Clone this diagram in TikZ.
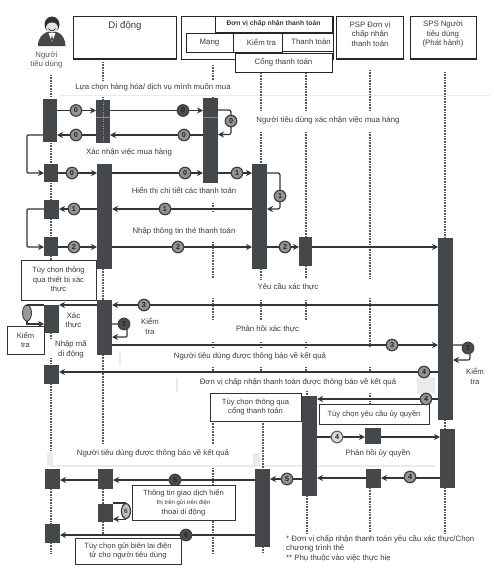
\documentclass[tikz,border=0pt]{standalone}
\usepackage{fontspec}
\setmainfont{Liberation Sans}
\usetikzlibrary{arrows.meta,shapes.geometric}
\definecolor{actc}{HTML}{45484A}
\definecolor{linec}{HTML}{353535}
\definecolor{txtc}{HTML}{3C3C3C}
\tikzset{
 act/.style={fill=actc,inner sep=0pt,outer sep=0pt},
 hdr/.style={draw=black!85,line width=0.7pt,fill=white,inner sep=0pt,outer sep=0pt,align=center,font=\fontsize{7.8}{9.2}\selectfont,text=txtc},
 hdrs/.style={hdr,line width=1pt},
 note/.style={draw=black!80,line width=0.8pt,fill=white,inner sep=0pt,outer sep=0pt,align=center,font=\fontsize{7.6}{9.4}\selectfont,text=txtc},
 lbl/.style={font=\fontsize{7.8}{9.4}\selectfont,text=txtc,align=center,inner sep=0pt},
 life/.style={draw=black!65,line width=1.5pt,dash pattern=on 1pt off 0.6pt},
 conn/.style={draw=linec,line width=1.2pt,-{Stealth[length=6pt,width=6pt]}},
 connp/.style={draw=linec,line width=1.2pt},
 num/.style={circle,draw=black!75,line width=1.2pt,fill=black!42,inner sep=0pt,minimum size=11.5pt,font=\bfseries\fontsize{7.2}{8}\selectfont,text=black!85},
 numd/.style={num,fill=black!70},
 numw/.style={num,fill=black!15,draw=black!60},
 faint/.style={fill=black!8,draw=none},
}
\newcommand{\abox}[5]{\pgfmathsetmacro\wB{#4-#2}\pgfmathsetmacro\hB{#5-#3}\node[act,minimum width=\wB pt,minimum height=\hB pt] (#1) at ({(#2+#4)/2},{(#3+#5)/2}) {};}
\newcommand{\tbox}[7][hdr]{\pgfmathsetmacro\wB{#5-#3}\pgfmathsetmacro\hB{#6-#4}\node[#1,minimum width=\wB pt,minimum height=\hB pt] (#2) at ({(#3+#5)/2},{(#4+#6)/2}) {#7};}
\newcommand{\lifeseg}[3]{\draw[life] (#1,#2) -- (#1,#3);}
\begin{document}
\begin{tikzpicture}[x=1pt,y=-1pt]
\useasboundingbox (0,0) rectangle (493,581);
\fill[white] (0,0) rectangle (493,581);
% faint scan marks
\fill[faint] (60,94.5) rectangle (490,95.5);
\fill[faint] (50,465) rectangle (435,467);
\fill[faint] (47,452) rectangle (53,466);
\fill[faint] (119,351) rectangle (121,366);
\fill[faint] (176,378) rectangle (178,392);
\fill[faint] (417,377) rectangle (435,393);
\fill[faint] (253,453) rectangle (260,466);
% lifelines
\foreach \a/\b in {75/97,143/163,183/200,219/236,256/262,333/338,358/364,384/451,489/524,543/553}{\lifeseg{51}{\a}{\b}}
\foreach \a/\b in {62/80,97/100,269/300,355/444,489/504,522/535}{\lifeseg{103}{\a}{\b}}
\foreach \a/\b in {65/80,97/100,203/212,242/278,298/320,342/347,367/373,421/444,468/554}{\lifeseg{213}{\a}{\b}}
\foreach \a/\b in {73/111,132/164,269/279,300/320,342/347,367/372}{\lifeseg{261}{\a}{\b}}
\foreach \a/\b in {421/469,547/552}{\lifeseg{263}{\a}{\b}}
\foreach \a/\b in {73/111,132/237,266/278,300/320,342/347,367/372}{\lifeseg{306}{\a}{\b}}
\lifeseg{307}{391}{396}\lifeseg{307}{496}{533}
\foreach \a/\b in {70/111,132/278,298/347,367/372,393/404,488/532}{\lifeseg{370}{\a}{\b}}
\foreach \a/\b in {72/238,420/429,488/533}{\lifeseg{445}{\a}{\b}}
% person icon
\fill[black!72] (38,46) .. controls (38,37) and (43,34) .. (47,32) -- (57,32) .. controls (62,34) and (65,38) .. (65.5,46) -- cycle;
\fill[black!80] (52,24.5) ellipse (7.5pt and 8pt);
\fill[black!10] (52,27.5) ellipse (6pt and 5pt);
\fill[white] (48.5,33) -- (55.5,33) -- (52,42) -- cycle;
\draw[black!85,line width=0.7pt] (48.5,28.5) .. controls (50,31.5) and (54,31.5) .. (55.5,28.5);
\fill[black!70] (52,35) -- (53,39) -- (52,42) -- (51,39) -- cycle;
\node[lbl,text=black!65] (plabel) at (46.5,60) {Người\\tiêu dùng};
% headers
\tbox[hdrs]{mobile}{73}{16}{176}{59}{}
\draw[black!85,line width=1.6pt] (mobile.south west) -- (mobile.south east);
\node[font=\fontsize{9.6}{11}\selectfont,text=txtc,inner sep=0pt] (mobilet) at (125,26) {Di động};
\tbox[hdrs]{merch}{181}{16}{333}{59}{}
\tbox{merchant}{215}{16}{332}{32}{\bfseries\fontsize{6.8}{8}\selectfont Đơn vị chấp nhận thanh toán}
\tbox{mang}{186}{33}{233}{52}{Mạng}
\tbox{kiemtra}{233}{33}{282}{52}{\hspace*{8pt}Kiểm tra}
\tbox{thanhtoan}{282}{33}{333}{51}{\hspace*{7pt}Thanh toán}
\tbox{cong}{235}{53}{332}{72}{Cổng thanh toán}
\tbox[hdrs]{psp}{336}{16}{403}{59}{}
\draw[black!85,line width=1.6pt] (psp.south west) -- (psp.south east);
\node[lbl] (psptxt) at (370,34) {PSP Đơn vị\\chấp nhận\\thanh toán};
\tbox[hdrs]{sps}{410}{16}{476}{59}{}
\draw[black!85,line width=1.6pt] (sps.south west) -- (sps.south east);
\node[lbl] (spstxt) at (443,34) {SPS Người\\tiêu dùng\\(Phát hành)};
% activation boxes
\abox{C1}{43}{99}{57}{142}
\abox{M1}{96}{100}{110}{143}
\abox{N1}{203}{98}{218}{183}
\abox{C2}{44}{164}{58}{182}
\abox{M2}{97}{164}{112}{269}
\abox{C3}{44}{200}{59}{219}
\abox{C4}{44}{237}{58}{256}
\abox{K1}{252}{164}{267}{269}
\abox{T1}{299}{237}{312}{266}
\abox{S1}{438}{238}{453}{420}
\abox{S2}{440}{429}{455}{488}
\abox{M3}{97}{300}{112}{355}
\abox{C5}{44}{305}{59}{333}
\abox{C6}{44}{365}{59}{384}
\abox{K2}{302}{396}{317}{496}
\abox{T2}{365}{428}{381}{444}
\abox{T3}{366}{469}{381}{488}
\abox{K3}{255}{469}{270}{547}
\abox{C7}{45}{469}{60}{489}
\abox{M4}{98}{469}{113}{489}
\abox{M5}{98}{504}{113}{522}
\abox{C8}{45}{524}{60}{543}
% marks inside the first activations
\draw[black!40,line width=1pt,dash pattern=on 1pt off 1.4pt] (103,102) -- (103,142);
\fill[black!45] (96,116.5) rectangle (110,117.5);
\fill[black!45] (203,116.5) rectangle (218,117.5);
% connectors
\draw[conn] (C1.east|-0,110.5) -- (M1.west|-0,110.5);
\draw[conn] (M1.east|-0,110.5) -- (N1.west|-0,110.5);
\draw[conn] (N1.west|-0,135) -- (M1.east|-0,135);
\draw[conn] (M1.west|-0,135) -- (C1.east|-0,135);
\draw[conn,rounded corners=2pt] (N1.east|-0,110) -- (231,110) -- (231,134.5) -- (N1.east|-0,134.5);
\draw[conn,rounded corners=1pt] (C1.west|-0,135) -- (27,135) -- (27,173) -- (C2.west|-0,173);
\draw[conn] (C2.east|-0,173) -- (M2.west|-0,173);
\draw[conn] (M2.east|-0,173) -- (N1.west|-0,173);
\draw[conn] (N1.east|-0,173) -- (K1.west|-0,173);
\draw[conn,rounded corners=2pt] (K1.east|-0,173) -- (280,173) -- (280,209) -- (K1.east|-0,209);
\draw[conn] (K1.west|-0,209) -- (M2.east|-0,209);
\draw[conn] (M2.west|-0,209) -- (C3.east|-0,209);
\draw[conn,rounded corners=1pt] (C3.west|-0,209) -- (27,209) -- (27,247) -- (C4.west|-0,247);
\draw[conn] (C4.east|-0,247) -- (M2.west|-0,247);
\draw[conn] (M2.east|-0,247) -- (K1.west|-0,247);
\draw[conn] (K1.east|-0,247) -- (T1.west|-0,247);
\draw[conn] (T1.east|-0,247) -- (S1.west|-0,247);
\draw[conn] (S1.west|-0,305) -- (M3.east|-0,305);
\draw[conn] (M3.west|-0,305) -- (C5.east|-0,305);
\draw[conn,rounded corners=1pt] (M3.east|-0,324) -- (127,324) -- (127,337) -- (M3.east|-0,337);
\draw[conn] (M3.east|-0,345) -- (S1.west|-0,345);
\draw[conn,rounded corners=2pt] (S1.east|-0,345) -- (470,345) -- (470,360) -- (S1.east|-0,360);
\draw[conn] (S1.west|-0,372) -- (C6.east|-0,372);
\draw[conn] (S1.west|-0,399) -- (K2.east|-0,399);
\draw[conn] (K2.east|-0,437) -- (T2.west|-0,437);
\draw[conn] (T2.east|-0,437) -- (S2.west|-0,437);
\draw[conn] (S2.west|-0,478) -- (T3.east|-0,478);
\draw[conn] (T3.west|-0,478) -- (K2.east|-0,478);
\draw[conn] (K2.west|-0,479) -- (K3.east|-0,479);
\draw[conn] (K3.west|-0,480) -- (M4.east|-0,480);
\draw[conn] (M4.west|-0,480) -- (C7.east|-0,480);
\draw[conn] (K3.west|-0,535) -- (C8.east|-0,535);
% number partly hidden by the box under it
\node[numd] (nx) at (175,480) {5};
% text boxes
\tbox[note]{optdev}{21}{260}{96}{300}{Tùy chọn thông\\qua thiết bị xác\\thực}
\tbox[note]{chk}{7}{326}{44}{354}{Kiểm\\tra}
\tbox[note]{optgate}{210}{393}{301}{421}{Tùy chọn thông qua\\cổng thanh toán}
\tbox[note]{optauth}{319}{404}{429}{424}{Tùy chọn yêu cầu ủy quyền}
\tbox[note]{optinfo}{132}{485}{235}{520}{Thông tin giao dịch hiển\\{\fontsize{6}{8}\selectfont thị trên gửi trên điện}\\thoại di động}
\tbox[note]{optrec}{75}{538}{181}{564}{Tùy chọn gửi biên lai điện\\tử cho người tiêu dùng}
% device shapes
\node[draw=black!75,line width=0.9pt,fill=black!40,ellipse,inner sep=0pt,minimum width=9pt,minimum height=16pt] (dev) at (27,313) {};
\draw[conn] (dev.south) |- (C5.west|-0,324);
\draw[connp] (dev.north) |- (C5.west|-0,305);
\node[draw=black!75,line width=1.2pt,fill=black!25,ellipse,inner sep=0pt,minimum width=9pt,minimum height=15pt,font=\bfseries\fontsize{6.5}{7}\selectfont,text=black!75] (ny) at (126,511) {6};
\draw[connp] (M5.east|-ny.north) -- (ny.north);
\draw[conn] (ny.south) -- (M5.east|-ny.south);
% numbers
\foreach \n/\s/\p/\t in {a/num/{76,110.5}/0,b/numd/{183,110.5}/0,c/num/{231,121}/0,d/num/{76,135}/0,e/num/{184,135}/0,f/num/{72,173}/0,g/num/{185,173}/0,h/num/{237,173}/1,i/num/{280,196}/1,j/num/{165,209}/1,k/num/{74,209}/1,l/num/{74,247}/2,m/num/{178,247}/2,n/num/{285,247}/2,o/num/{144,305}/3,p/numd/{124,324}/3,q/num/{392,345}/3,r/numd/{468,348}/3,s/num/{424,372}/4,t/num/{426,399}/4,u/numw/{337,437}/4,v/num/{410,477}/4,w/num/{287,479}/5,z/numd/{186,535}/6}{
 \node[\s] (n\n) at (\p) {\t};
}
% labels
\node[lbl] (l1) at (153,87) {Lựa chọn hàng hóa/ dịch vụ mình muốn mua};
\node[lbl] (l2) at (129,152) {Xác nhận việc mua hàng};
\node[lbl] (l3) at (328,120) {Người tiêu dùng xác nhận việc mua hàng};
\node[lbl] (l4) at (184,191) {Hiển thị chi tiết các thanh toán};
\node[lbl] (l5) at (184,231) {Nhập thông tin thẻ thanh toán};
\node[lbl] (l6) at (288,287) {Yêu cầu xác thực};
\node[lbl] (l7) at (73.5,320.5) {Xác\\thực};
\node[lbl] (l8) at (150,326.5) {Kiểm\\tra};
\node[lbl] (l9) at (267.5,329) {Phản hồi xác thực};
\node[lbl] (l10) at (71,349.5) {Nhập mã\\di động};
\node[lbl] (l11) at (250,356) {Người tiêu dùng được thông báo về kết quả};
\node[lbl] (l12) at (298,382) {Đơn vị chấp nhận thanh toán được thông báo về kết quả};
\node[lbl] (l13) at (475,376.5) {Kiểm\\tra};
\node[lbl] (l14) at (378,453) {Phản hồi ủy quyền};
\node[lbl] (l15) at (153,453) {Người tiêu dùng được thông báo về kết quả};
\node[lbl,align=left,anchor=north west] (l16) at (286,535) {* Đơn vị chấp nhận thanh toán yêu cầu xác thực/Chọn\\chương trình thẻ\\** Phụ thuộc vào việc thực hiẹ};
\end{tikzpicture}
\end{document}
